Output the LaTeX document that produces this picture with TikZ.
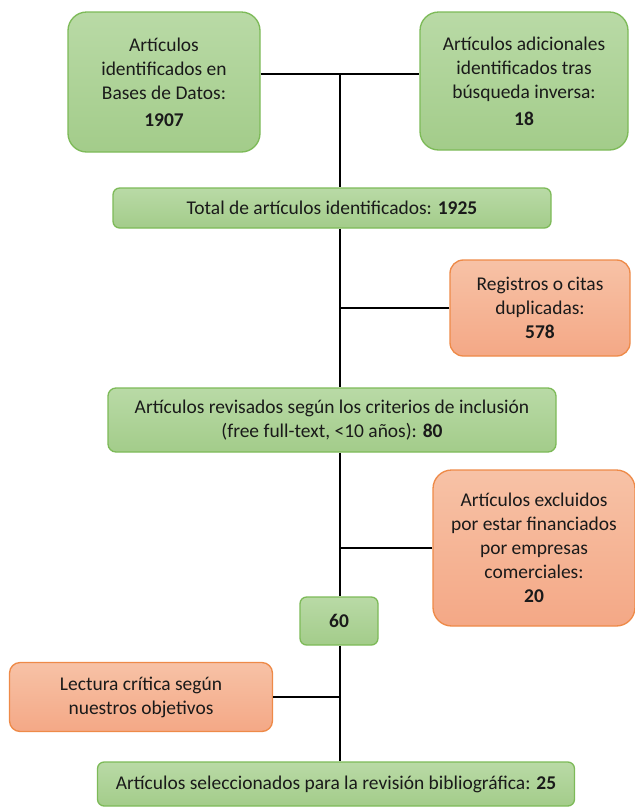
\documentclass[tikz,border=0pt]{standalone}
\usepackage{fontspec}
\setmainfont{Carlito}
\usepackage{xcolor}
\definecolor{grtop}{HTML}{B9DAA6}
\definecolor{grbot}{HTML}{A3CC8A}
\definecolor{grline}{HTML}{7DBA58}
\definecolor{ortop}{HTML}{F7C2A6}
\definecolor{orbot}{HTML}{F4A886}
\definecolor{orline}{HTML}{EE8A48}
\definecolor{ink}{HTML}{1A1A1A}
\usepackage{tikz}
\usetikzlibrary{positioning, calc}
\tikzset{
    greenbox/.style = {rectangle, draw=grline, top color=grtop, bottom color=grbot,
                       line width=1pt, align=center, text=ink, inner sep=0pt},
    orangebox/.style = {rectangle, draw=orline, top color=ortop, bottom color=orbot,
                        line width=1pt, align=center, text=ink, inner sep=0pt},
    link/.style = {line width=2.2pt, black},
}

\begin{document}
\begin{tikzpicture}[x=0.75pt, y=-0.75pt, font=\fontsize{14.6}{18}\selectfont]
        \useasboundingbox (0,0) rectangle (635,808);
        % identification
        \node[greenbox, rounded corners=14pt, minimum width=192*0.75pt, minimum height=140*0.75pt]
              (dbs) at (164,82) {Artículos\\identificados en\\Bases de Datos:\\[2pt]\textbf{1907}};
        \node[greenbox, rounded corners=14pt, minimum width=208*0.75pt, minimum height=138*0.75pt]
              (inv) at (524,81) {Artículos adicionales\\identificados tras\\búsqueda inversa:\\[2pt]\textbf{18}};
        \coordinate (top) at (340,74);
        \node[greenbox, rounded corners=5pt, minimum width=438*0.75pt, minimum height=40*0.75pt]
              (total) at (332,208) {Total de artículos identificados: \textbf{1925}};
        % duplicates
        \node[orangebox, rounded corners=10pt, minimum width=180*0.75pt, minimum height=96*0.75pt]
              (dup) at (540,308) {Registros o citas\\duplicadas:\\\textbf{578}};
        % screening
        \node[greenbox, rounded corners=6pt, minimum width=448*0.75pt, minimum height=64*0.75pt]
              (rev) at (332,420) {Artículos revisados según los criterios de inclusión\\(free full-text, <10 años): \textbf{80}};
        \node[orangebox, rounded corners=14pt, minimum width=202*0.75pt, minimum height=156*0.75pt]
              (excl) at (534,548) {Artículos excluidos\\por estar financiados\\por empresas\\comerciales:\\\textbf{20}};
        \node[greenbox, rounded corners=5pt, minimum width=78*0.75pt, minimum height=48*0.75pt]
              (sixty) at (339,621) {\textbf{60}};
        % final selection
        \node[orangebox, rounded corners=8pt, minimum width=263*0.75pt, minimum height=69*0.75pt]
              (crit) at (141,697) {Lectura crítica según\\nuestros objetivos};
        \node[greenbox, rounded corners=5pt, minimum width=477*0.75pt, minimum height=44*0.75pt]
              (sel) at (336,784) {Artículos seleccionados para la revisión bibliográfica: \textbf{25}};
        % connectors
        \draw[link] (dbs.east |- top) -- (inv.west |- top);
        \draw[link] (top) -- (total.north -| top);
        \draw[link] (total.south -| top) -- (rev.north -| top);
        \draw[link] (dup.west) -- (dup.west -| top);
        \draw[link] (rev.south -| top) -- (sixty.north -| top);
        \draw[link] (excl.west) -- (excl.west -| top);
        \draw[link] (sixty.south -| top) -- (sel.north -| top);
        \draw[link] (crit.east) -- (crit.east -| top);
      \end{tikzpicture}
\end{document}
